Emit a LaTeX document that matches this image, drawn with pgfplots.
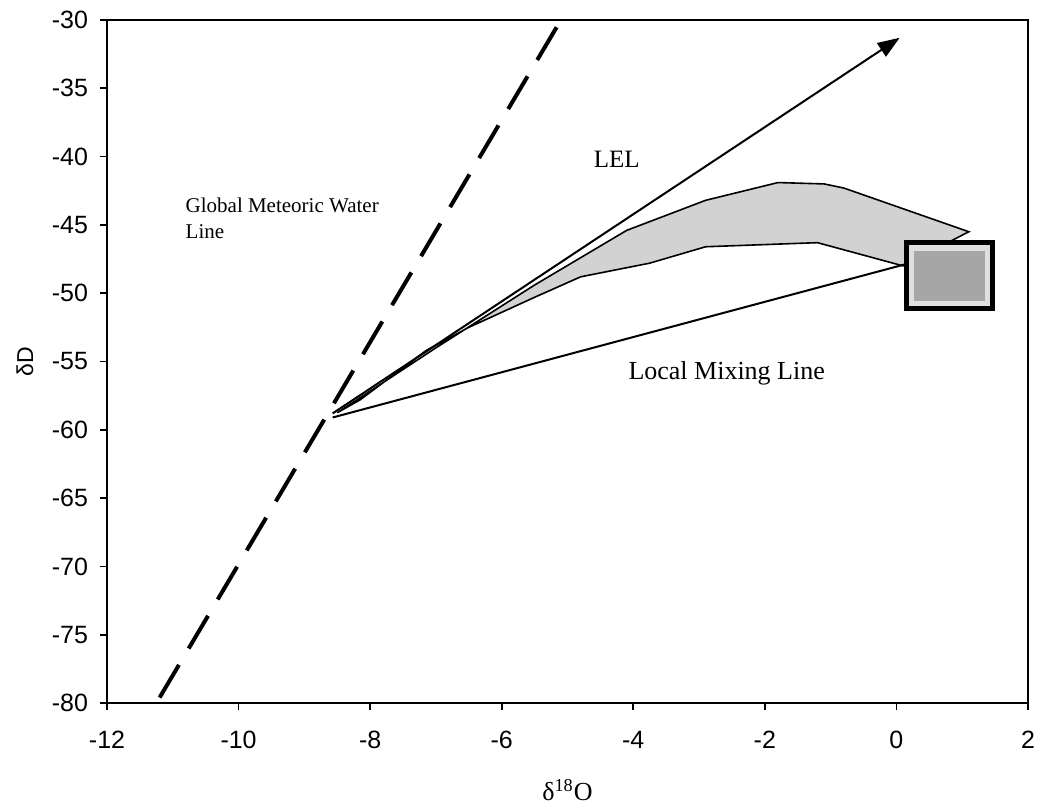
\documentclass[border=0pt]{standalone}
\usepackage{fontspec}
\setmainfont{Liberation Serif}
\newfontfamily\sansf{Liberation Sans}
\usepackage{pgfplots}
\pgfplotsset{compat=1.18}
\usetikzlibrary{arrows.meta}
\begin{document}
\begin{tikzpicture}
\begin{axis}[
 at={(0,0)}, anchor=south west,
 scale only axis, width=460.5pt, height=341.5pt,
 xmin=-12, xmax=2, ymin=-80, ymax=-30,
 xtick={-12,-10,...,2}, xticklabels={-12,-10,-8,-6,-4,-2,0,2},
 ytick={-80,-75,...,-30}, yticklabels={-80,-75,-70,-65,-60,-55,-50,-45,-40,-35,-30},
 tick pos=left, tick align=outside, major tick length=3.5pt,
 axis line style={line width=1pt}, tick style={black, line width=0.8pt},
 ticklabel style={font=\sansf\fontsize{12.5}{14}\selectfont},
 xticklabel style={yshift=-7pt},
 yticklabel style={xshift=-2.5pt},
 xlabel={δ\textsuperscript{18}O},
 ylabel={\sansf δD},
 xlabel style={at={(axis description cs:0.5,-0.1274)}, anchor=center, font=\fontsize{13}{15}\selectfont},
 ylabel style={at={(axis description cs:-0.089,0.5)}, anchor=center, font=\fontsize{11.5}{13}\selectfont},
]
% shaded band
\addplot[draw=black, line width=0.8pt, fill=gray!35] coordinates {(-8.5,-58.75) (-7,-54.0) (-5.5,-49.4) (-4.1,-45.4) (-2.9,-43.2) (-1.8,-41.9) (-1.1,-42.0) (-0.8,-42.3) (1.1,-45.5) (0.1,-48.0) (-1.2,-46.3) (-2.9,-46.6) (-3.75,-47.8) (-4.8,-48.8) (-5.5,-50.3) (-6.5,-52.5) (-7.15,-54.2) (-8.15,-57.8)} -- cycle;
% GMWL
\addplot[black, line width=2pt, dash pattern=on 19pt off 9.5pt] coordinates {(-11.2,-79.6) (-5.1,-30)};
% LEL
\addplot[black, line width=1pt, -{Triangle[length=11pt,width=8pt]}] coordinates {(-8.57,-58.8) (0.05,-31.3)};
% Local mixing line
\addplot[black, line width=1pt] coordinates {(-8.57,-59.1) (0.12,-47.9)};
% box
\addplot[draw=black, line width=2.5pt, fill=gray!25] coordinates {(0.15,-46.3) (1.46,-46.3) (1.46,-51.1) (0.15,-51.1)} -- cycle;
\addplot[draw=none, fill=gray!70] coordinates {(0.27,-46.9) (1.34,-46.9) (1.34,-50.6) (0.27,-50.6)} -- cycle;
\node[anchor=north west, inner sep=0pt, align=left, font=\fontsize{10.5}{13}\selectfont] at (axis cs:-10.81,-43.0) {Global Meteoric Water\\Line};
\node[font=\fontsize{12.5}{14}\selectfont] at (axis cs:-4.25,-40.2) {LEL};
\node[font=\fontsize{13}{15}\selectfont] at (axis cs:-2.58,-55.85) {Local Mixing Line};
\end{axis}
\pgfresetboundingbox
\path[use as bounding box] (-53.5pt,-53.5pt) rectangle (467pt,351.5pt);
\end{tikzpicture}
\end{document}
